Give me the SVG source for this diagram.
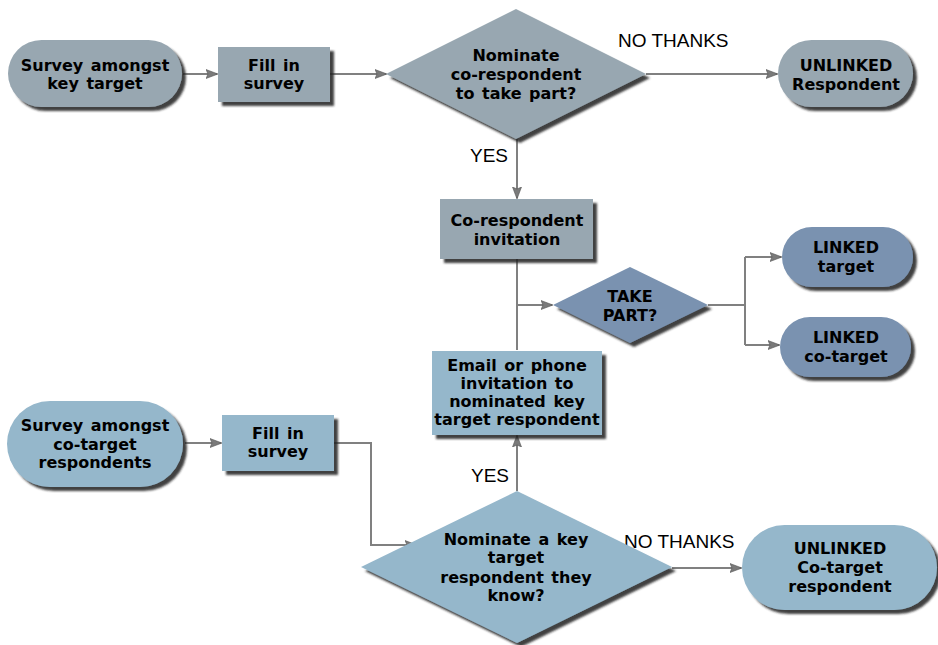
<svg xmlns="http://www.w3.org/2000/svg" width="938" height="645" viewBox="0 0 938 645">
<defs>
<filter id="sh" x="-10%" y="-10%" width="130%" height="140%">
<feDropShadow dx="4" dy="4" stdDeviation="1.2" flood-color="#222" flood-opacity="0.85"/>
</filter>
<marker id="ah" viewBox="0 0 12 10" refX="11" refY="5" markerWidth="12" markerHeight="10" markerUnits="userSpaceOnUse" orient="auto">
<path d="M0,0.5 L12,5 L0,9.5 L2,5 Z" fill="#7a7a7a" stroke="#555" stroke-width="0.6"/>
</marker>
</defs>
<style>
.grey{fill:#98a7b1}
.dblue{fill:#7a92b0}
.lblue{fill:#95b7cb}
.t{font-family:"DejaVu Sans",Verdana,sans-serif;font-weight:bold;font-size:16px;fill:#000;text-anchor:middle;word-spacing:2px}
.l{font-family:"Liberation Sans",Arial,sans-serif;font-size:19px;fill:#000}
.c{fill:none;stroke:#808080;stroke-width:2}
</style>
<g id="connectors">
<path class="c" d="M183,74 H217" marker-end="url(#ah)"/>
<path class="c" d="M330,74 H386" marker-end="url(#ah)"/>
<path class="c" d="M646,74 H777" marker-end="url(#ah)"/>
<path class="c" d="M517,138 V198" marker-end="url(#ah)"/>
<path class="c" d="M517,259 V350"/>
<path class="c" d="M517,305 H552" marker-end="url(#ah)"/>
<path class="c" d="M708,305 H745"/>
<path class="c" d="M745,257 V345"/>
<path class="c" d="M745,257 H781" marker-end="url(#ah)"/>
<path class="c" d="M745,345 H779" marker-end="url(#ah)"/>
<path class="c" d="M185,443 H221" marker-end="url(#ah)"/>
<path class="c" d="M334,443 H371 V545 H416" marker-end="url(#ah)"/>
<path class="c" d="M517,491 V436" marker-end="url(#ah)"/>
<path class="c" d="M672,568 H741" marker-end="url(#ah)"/>
</g>
<g id="labels">
<text class="l" x="618" y="47">NO THANKS</text>
<text class="l" x="470" y="162">YES</text>
<text class="l" x="471" y="482">YES</text>
<text class="l" x="624" y="548">NO THANKS</text>
</g>
<g id="n1">
<rect class="grey" x="8" y="40" width="174" height="67" rx="33.5" filter="url(#sh)"/>
<text class="t" x="95" y="71">Survey amongst</text>
<text class="t" x="95" y="89">key target</text>
</g>
<g id="n2">
<rect class="grey" x="218" y="47" width="112" height="55" filter="url(#sh)"/>
<text class="t" x="274" y="71">Fill in</text>
<text class="t" x="274" y="89">survey</text>
</g>
<g id="n3">
<polygon class="grey" points="386,74 516,9 646,74 516,139" filter="url(#sh)"/>
<text class="t" x="516" y="61">Nominate</text>
<text class="t" x="516" y="80">co-respondent</text>
<text class="t" x="516" y="99">to take part?</text>
</g>
<g id="n4">
<rect class="grey" x="778" y="40" width="135" height="67" rx="33.5" filter="url(#sh)"/>
<text class="t" x="846" y="71">UNLINKED</text>
<text class="t" x="846" y="90">Respondent</text>
</g>
<g id="n5">
<rect class="grey" x="440" y="199" width="153" height="60" filter="url(#sh)"/>
<text class="t" x="517" y="226">Co-respondent</text>
<text class="t" x="517" y="245">invitation</text>
</g>
<g id="n6">
<polygon class="dblue" points="553,305 630,267 708,305 630,343" filter="url(#sh)"/>
<text class="t" x="630" y="302">TAKE</text>
<text class="t" x="630" y="321">PART?</text>
</g>
<g id="n7">
<rect class="dblue" x="782" y="227" width="131" height="60" rx="30" filter="url(#sh)"/>
<text class="t" x="846" y="253">LINKED</text>
<text class="t" x="846" y="272">target</text>
</g>
<g id="n8">
<rect class="dblue" x="780" y="317" width="131" height="60" rx="30" filter="url(#sh)"/>
<text class="t" x="846" y="343">LINKED</text>
<text class="t" x="846" y="362">co-target</text>
</g>
<g id="n9">
<rect class="lblue" x="432" y="351" width="170" height="84" filter="url(#sh)"/>
<text class="t" x="517" y="371">Email or phone</text>
<text class="t" x="517" y="389">invitation to</text>
<text class="t" x="517" y="407">nominated key</text>
<text class="t" x="517" y="425" style="word-spacing:0">target respondent</text>
</g>
<g id="n10">
<rect class="lblue" x="7" y="401" width="176" height="86" rx="43" filter="url(#sh)"/>
<text class="t" x="95" y="431">Survey amongst</text>
<text class="t" x="95" y="450">co-target</text>
<text class="t" x="95" y="468">respondents</text>
</g>
<g id="n11">
<rect class="lblue" x="222" y="415" width="112" height="56" filter="url(#sh)"/>
<text class="t" x="278" y="439">Fill in</text>
<text class="t" x="278" y="457">survey</text>
</g>
<g id="n12">
<polygon class="lblue" points="361,567 517,491 672,567 517,643" filter="url(#sh)"/>
<text class="t" x="516" y="545">Nominate a key</text>
<text class="t" x="516" y="563">target</text>
<text class="t" x="516" y="583">respondent they</text>
<text class="t" x="516" y="601">know?</text>
</g>
<g id="n13">
<rect class="lblue" x="742" y="525" width="195" height="85" rx="42.5" filter="url(#sh)"/>
<text class="t" x="840" y="554">UNLINKED</text>
<text class="t" x="840" y="573">Co-target</text>
<text class="t" x="840" y="592">respondent</text>
</g>
</svg>
